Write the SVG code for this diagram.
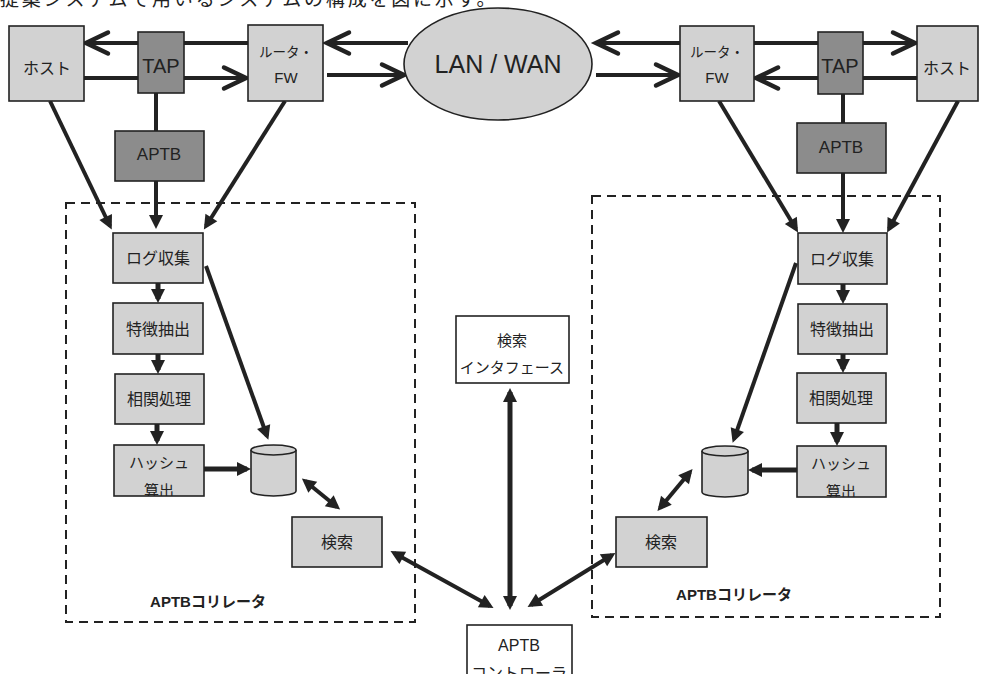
<svg xmlns="http://www.w3.org/2000/svg" width="985" height="674" viewBox="0 0 985 674">
<style>
.lt{fill:#d2d2d2;stroke:#222;stroke-width:1.6}
.dk{fill:#8c8c8c;stroke:#222;stroke-width:1.6}
.wh{fill:#fff;stroke:#222;stroke-width:1.6}
.ln{stroke:#222;stroke-width:4;fill:none}
.ln5{stroke:#222;stroke-width:5;fill:none}
.ch{marker-end:url(#chev)}
.ar{marker-end:url(#tri)}
.bi{marker-start:url(#tri);marker-end:url(#tri)}
.dash{fill:none;stroke:#222;stroke-width:2;stroke-dasharray:9 6}
.t{font-family:"Liberation Sans","Noto Sans CJK JP",sans-serif;fill:#222;text-anchor:middle;font-size:16px}
.b{font-weight:bold;font-size:15px}
</style>
<defs>
<marker id="chev" markerUnits="userSpaceOnUse" markerWidth="30" markerHeight="30" refX="21" refY="11" orient="auto" overflow="visible">
<path d="M-1,0.5 L21,11 L-1,21.5" fill="none" stroke="#222" stroke-width="4.5" stroke-linecap="round" stroke-linejoin="miter"/>
</marker>
<marker id="tri" markerUnits="userSpaceOnUse" markerWidth="16" markerHeight="16" refX="10" refY="7" orient="auto-start-reverse" overflow="visible">
<path d="M0,0 L14,7 L0,14 z" fill="#222"/>
</marker>
<clipPath id="cHL"><rect x="114" y="445" width="90" height="51"/></clipPath>
<clipPath id="cHR"><rect x="797" y="446" width="89" height="51"/></clipPath>
</defs>

<text class="t" x="0" y="6" style="text-anchor:start;font-size:19px;letter-spacing:2.8px">提案システムで用いるシステムの構成を図に示す。</text>

<g id="correlator-left-frame"><rect class="dash" x="66" y="203" width="349" height="419"/></g>
<g id="correlator-right-frame"><rect class="dash" x="592" y="196" width="348" height="421"/></g>

<g id="connectors">
<path class="ln ch" d="M248,43 L86,43"/>
<path class="ln ch" d="M84,78 L246,78"/>
<path class="ln ch" d="M408,43 L327,43"/>
<path class="ln ch" d="M327,75 L404,75"/>
<path class="ln" d="M156,93 L156,131"/>
<path class="ln ar" d="M156,181 L156,225"/>
<path class="ln ar" d="M50,101 L110,226"/>
<path class="ln ar" d="M285,101 L206,226"/>
<path class="ln5 ar" d="M158,283 L158,299"/>
<path class="ln5 ar" d="M158,354 L158,370"/>
<path class="ln5 ar" d="M157,424 L157,441"/>
<path class="ln5 ar" d="M204,469 L247,469"/>
<path class="ln ar" d="M206,266 L267,436"/>
<path class="ln bi" d="M305,481 L337,507"/>
<path class="ln bi" d="M394,553 L490,606"/>
<path class="ln5 bi" d="M510,392 L510,606"/>
<path class="ln bi" d="M531,605 L612,555"/>
<path class="ln ch" d="M680,43 L596,43"/>
<path class="ln ch" d="M596,75 L678,75"/>
<path class="ln ch" d="M754,43 L915,43"/>
<path class="ln ch" d="M917,78 L756,78"/>
<path class="ln" d="M843,94 L843,123"/>
<path class="ln ar" d="M843,173 L843,229"/>
<path class="ln ar" d="M719,101 L796,229"/>
<path class="ln ar" d="M958,101 L889,229"/>
<path class="ln5 ar" d="M843,284 L843,300"/>
<path class="ln5 ar" d="M843,354 L843,369"/>
<path class="ln5 ar" d="M837,423 L837,442"/>
<path class="ln5 ar" d="M797,470 L752,470"/>
<path class="ln ar" d="M796,263 L734,439"/>
<path class="ln bi" d="M690,472 L660,508"/>
</g>

<g id="host-left"><rect class="lt" x="9" y="26" width="75" height="75"/><text class="t" x="47" y="74">ホスト</text></g>
<g id="tap-left"><rect class="dk" x="138" y="32" width="46" height="61"/><text class="t" x="161" y="73" style="font-size:20px">TAP</text></g>
<g id="router-left"><rect class="lt" x="248" y="25" width="75" height="76"/><text class="t" x="286" y="57" style="font-size:13.5px">ルータ・</text><text class="t" x="286" y="83" style="font-size:15px">FW</text></g>
<g id="aptb-left"><rect class="dk" x="115" y="131" width="89" height="50"/><text class="t" x="159" y="160" style="font-size:17px">APTB</text></g>
<g id="lan-wan"><ellipse cx="498" cy="64" rx="94" ry="56" fill="#d2d2d2" stroke="#222" stroke-width="1.6"/><text class="t" x="498" y="73" style="font-size:25px">LAN / WAN</text></g>
<g id="router-right"><rect class="lt" x="680" y="26" width="74" height="75"/><text class="t" x="717" y="57" style="font-size:13.5px">ルータ・</text><text class="t" x="717" y="83" style="font-size:15px">FW</text></g>
<g id="tap-right"><rect class="dk" x="818" y="32" width="45" height="62"/><text class="t" x="840" y="73" style="font-size:20px">TAP</text></g>
<g id="host-right"><rect class="lt" x="917" y="26" width="61" height="75"/><text class="t" x="947" y="74">ホスト</text></g>
<g id="aptb-right"><rect class="dk" x="797" y="123" width="89" height="50"/><text class="t" x="841" y="153" style="font-size:17px">APTB</text></g>

<g id="log-left"><rect class="lt" x="113" y="233" width="90" height="50"/><text class="t" x="158" y="264">ログ収集</text></g>
<g id="feature-left"><rect class="lt" x="113" y="303" width="90" height="51"/><text class="t" x="158" y="335">特徴抽出</text></g>
<g id="corr-left"><rect class="lt" x="115" y="374" width="89" height="50"/><text class="t" x="159" y="405">相関処理</text></g>
<g id="hash-left"><rect class="lt" x="114" y="445" width="90" height="51"/><text class="t" x="159" y="468" style="font-size:15px">ハッシュ</text><text class="t" x="159" y="496" style="font-size:15px" clip-path="url(#cHL)">算出</text></g>
<g id="db-left"><path d="M251,450 L251,491 A22.5,5 0 0 0 296,491 L296,450" fill="#d2d2d2" stroke="#222" stroke-width="1.6"/><ellipse cx="273.5" cy="450" rx="22.5" ry="5" fill="#d2d2d2" stroke="#222" stroke-width="1.6"/></g>
<g id="search-left"><rect class="lt" x="292" y="517" width="90" height="50"/><text class="t" x="337" y="548">検索</text></g>
<text class="t b" x="208" y="607">APTBコリレータ</text>

<g id="search-interface"><rect class="wh" x="456" y="316" width="113" height="67"/><text class="t" x="512" y="346" style="font-size:15px">検索</text><text class="t" x="512" y="373" style="font-size:15px">インタフェース</text></g>
<g id="controller"><rect class="wh" x="467" y="625" width="105" height="60"/><text class="t" x="519" y="651">APTB</text><text class="t" x="519" y="679">コントローラ</text></g>

<g id="log-right"><rect class="lt" x="798" y="233" width="89" height="51"/><text class="t" x="842" y="265">ログ収集</text></g>
<g id="feature-right"><rect class="lt" x="798" y="304" width="89" height="50"/><text class="t" x="842" y="335">特徴抽出</text></g>
<g id="corr-right"><rect class="lt" x="797" y="373" width="89" height="50"/><text class="t" x="841" y="404">相関処理</text></g>
<g id="hash-right"><rect class="lt" x="797" y="446" width="89" height="51"/><text class="t" x="841" y="469" style="font-size:15px">ハッシュ</text><text class="t" x="841" y="497" style="font-size:15px" clip-path="url(#cHR)">算出</text></g>
<g id="db-right"><path d="M702,451 L702,492 A23,5 0 0 0 748,492 L748,451" fill="#d2d2d2" stroke="#222" stroke-width="1.6"/><ellipse cx="725" cy="451" rx="23" ry="5" fill="#d2d2d2" stroke="#222" stroke-width="1.6"/></g>
<g id="search-right"><rect class="lt" x="616" y="517" width="91" height="50"/><text class="t" x="661" y="548">検索</text></g>
<text class="t b" x="734" y="600">APTBコリレータ</text>
</svg>
